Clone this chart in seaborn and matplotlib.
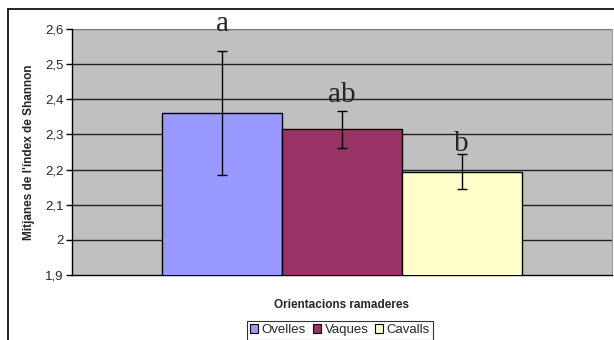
import matplotlib
matplotlib.use("Agg")
import numpy as np
import pandas as pd
import matplotlib.pyplot as plt
import seaborn as sns
from matplotlib.lines import Line2D
from matplotlib.patches import Patch

# Data
groups = ["Ovelles", "Vaques", "Cavalls"]
means = [2.361, 2.315, 2.194]
errors = [0.177, 0.053, 0.049]
letters = ["a", "ab", "b"]
yticks = [1.9, 2.0, 2.1, 2.2, 2.3, 2.4, 2.5, 2.6]

colors = ["#9999FF", "#993366", "#FFFFCC"]
# baseline of each letter above the error bar top, in points
letter_lift = [14, 6, 2.5]

df = pd.DataFrame({"cat": [""] * 3, "group": groups, "mean": means})

sns.set_style("white")
plt.rcParams["font.family"] = ["Liberation Sans", "DejaVu Sans"]

fig = plt.figure(figsize=(6.14, 3.4), dpi=100)
ax = fig.add_axes([72 / 614, 1 - 275 / 340, 540 / 614, 246 / 340])
ax.set_facecolor("#C0C0C0")

sns.barplot(data=df, x="cat", y="mean", hue="group", hue_order=groups,
            palette=colors, saturation=1, width=0.665, edgecolor="black", linewidth=1,
            errorbar=None, legend=False, ax=ax, zorder=3)

ax.set_ylim(1.9, 2.6)
ax.set_xlim(-0.5, 0.5)
ax.set_yticks(yticks)
tick_labels = []
for t in yticks:
    s = f"{t:.1f}".replace(".", ",")
    tick_labels.append("2" if s == "2,0" else s)
ax.set_yticklabels(tick_labels, fontsize=9.5)
ax.set_xticks([])
for y in yticks[1:-1]:
    ax.axhline(y, color="#222222", lw=1, zorder=1)
ax.axhline(2.6, color="#777777", lw=1, zorder=1)

ax.tick_params(axis="y", direction="out", length=4, width=1, color="black", pad=2, left=True)
ax.spines["top"].set_visible(False)
ax.spines["left"].set_color("black")
ax.spines["bottom"].set_color("black")
ax.spines["left"].set_linewidth(1)
ax.spines["bottom"].set_linewidth(1)
ax.spines["right"].set_color("#999999")

centers = []
for cont in ax.containers:
    for bar in cont:
        centers.append(bar.get_x() + bar.get_width() / 2)

ax.errorbar(centers, means, yerr=errors, fmt="none", ecolor="black",
            elinewidth=1, capsize=3.5, capthick=1, zorder=4)

for cx, m, e, lab, lift in zip(centers, means, errors, letters, letter_lift):
    ax.annotate(lab, (cx, m + e), xytext=(0, lift), textcoords="offset points",
                ha="center", va="baseline", fontsize=21, family="Liberation Serif",
                annotation_clip=False, zorder=5)

ax.set_ylabel("Mitjanes de l'índex de Shannon", fontsize=8.5, fontweight="bold", labelpad=7)
ax.set_xlabel("Orientacions ramaderes", fontsize=8.5, fontweight="bold", labelpad=17)

handles = [Patch(facecolor=c, edgecolor="black", linewidth=0.8) for c in colors]
fig.legend(handles, groups, loc="upper center", bbox_to_anchor=(340 / 614, 1 - 321 / 340),
           ncol=3, fontsize=9.5, frameon=True, fancybox=False, edgecolor="black",
           handlelength=0.6, handleheight=0.6, handletextpad=0.3, columnspacing=0.5,
           borderpad=0.25, borderaxespad=0)
fig.legends[0].get_frame().set_linewidth(0.8)

# outer chart border (cropped on the right and bottom)
fig.add_artist(Line2D([8 / 614, 8 / 614], [0, 1 - 9 / 340], color="black", lw=1.2, transform=fig.transFigure))
fig.add_artist(Line2D([8 / 614, 1], [1 - 9 / 340, 1 - 9 / 340], color="black", lw=1.2, transform=fig.transFigure))

fig.savefig("out.png", dpi=100)
